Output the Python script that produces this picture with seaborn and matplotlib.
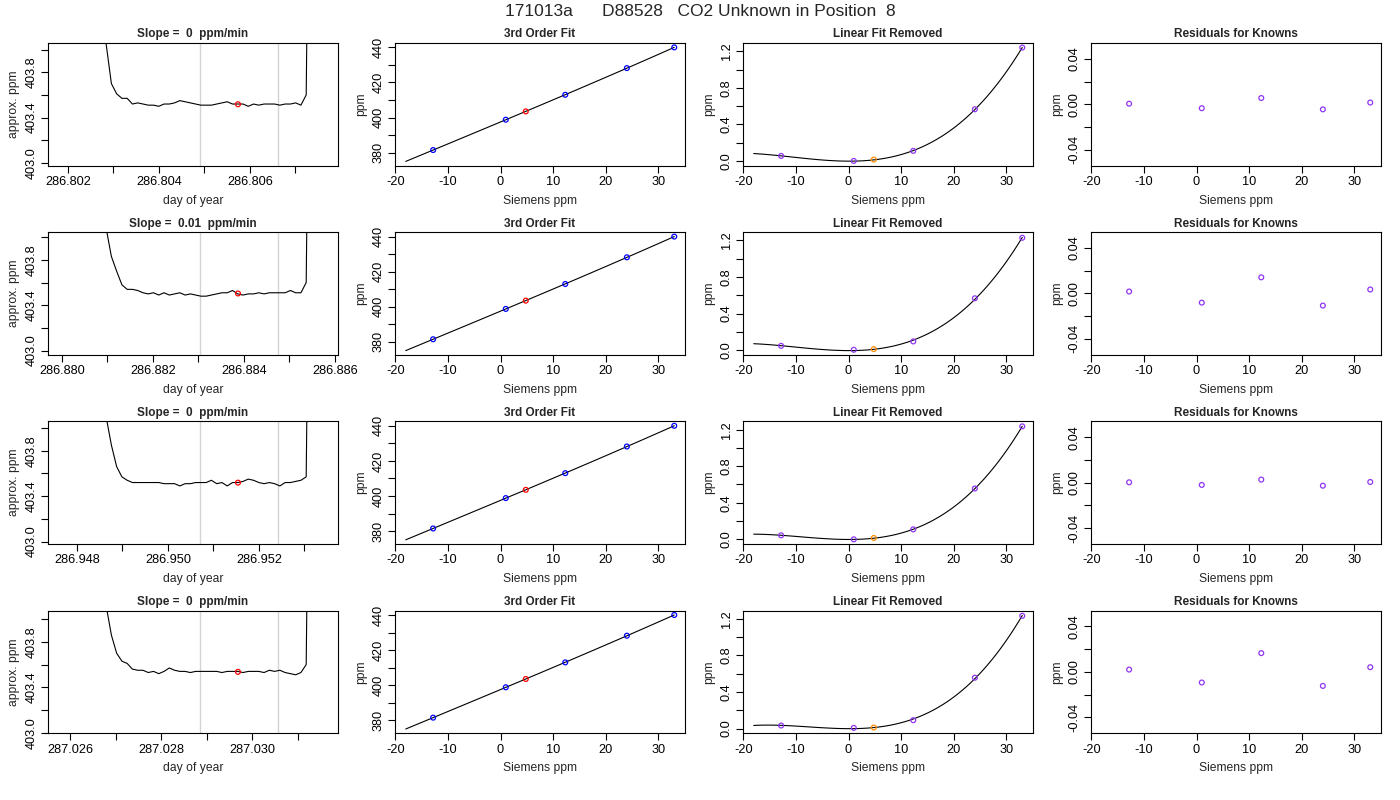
import numpy as np
import matplotlib
matplotlib.use("Agg")
import matplotlib.pyplot as plt
from matplotlib.ticker import MultipleLocator, FuncFormatter
import seaborn as sns

# ---- data ----
title_text = "171013a      D88528   CO2 Unknown in Position  8"
slope_labels = ["0", "0.01", "0", "0"]

# analyser trace, one sample every 10 s
sample_step_days = 10 / 86400
trace_start = [286.80180, 286.87993, 286.94760, 287.02575]
trace_ppm = [
    [412.0, 410.0, 408.4, 407.2, 406.3, 405.6, 405.0, 404.6, 404.3, 404.05,
     403.70, 403.61, 403.57, 403.57, 403.52, 403.53, 403.52, 403.51, 403.51, 403.50,
     403.52, 403.52, 403.53, 403.55, 403.54, 403.53, 403.52, 403.51, 403.51, 403.51,
     403.52, 403.53, 403.54, 403.52, 403.52, 403.52, 403.50, 403.52, 403.51, 403.52,
     403.52, 403.52, 403.51, 403.52, 403.52, 403.53, 403.51, 403.60, 408.0, 411.0,
     413.0, 414.0],
    [412.0, 410.0, 408.4, 407.2, 406.3, 405.6, 405.0, 404.6, 404.2, 404.08,
     403.83, 403.70, 403.58, 403.54, 403.54, 403.53, 403.51, 403.50, 403.51, 403.49,
     403.51, 403.49, 403.50, 403.51, 403.49, 403.50, 403.49, 403.48, 403.48, 403.49,
     403.50, 403.51, 403.51, 403.53, 403.50, 403.49, 403.50, 403.50, 403.51, 403.50,
     403.51, 403.51, 403.51, 403.51, 403.53, 403.51, 403.51, 403.60, 408.0, 411.0,
     413.0, 414.0],
    [412.0, 410.0, 408.4, 407.2, 406.3, 405.6, 405.0, 404.6, 404.3, 404.10,
     403.85, 403.66, 403.57, 403.54, 403.52, 403.52, 403.52, 403.52, 403.52, 403.52,
     403.51, 403.51, 403.51, 403.49, 403.51, 403.51, 403.52, 403.52, 403.52, 403.54,
     403.51, 403.52, 403.49, 403.52, 403.52, 403.53, 403.55, 403.54, 403.52, 403.51,
     403.52, 403.51, 403.49, 403.52, 403.52, 403.53, 403.54, 403.57, 408.0, 411.0,
     413.0, 414.0],
    [412.0, 410.0, 408.4, 407.2, 406.3, 405.6, 405.0, 404.6, 404.3, 404.12,
     403.86, 403.70, 403.63, 403.61, 403.56, 403.55, 403.55, 403.53, 403.54, 403.52,
     403.54, 403.57, 403.55, 403.54, 403.54, 403.53, 403.54, 403.54, 403.54, 403.54,
     403.54, 403.53, 403.54, 403.54, 403.54, 403.53, 403.54, 403.54, 403.54, 403.53,
     403.55, 403.54, 403.55, 403.53, 403.52, 403.51, 403.53, 403.60, 408.0, 411.0,
     413.0, 414.0],
]
window_marks = [
    [286.80490, 286.80661],
    [286.88303, 286.88474],
    [286.95070, 286.95241],
    [287.02885, 287.03056],
]
unknown_time = [286.80574, 286.88387, 286.95154, 287.02969]
unknown_ppm = [403.518, 403.504, 403.519, 403.536]

# calibration standards
siemens_known = [-12.8, 1.0, 12.3, 24.0, 33.0]
assigned_known = [381.5, 398.8, 413.0, 428.2, 440.0]
siemens_unknown = 4.8
lin_removed_known = [
    [0.055, 0.000, 0.110, 0.565, 1.240],
    [0.047, 0.004, 0.095, 0.567, 1.229],
    [0.044, 0.000, 0.109, 0.556, 1.236],
    [0.033, 0.007, 0.091, 0.556, 1.233],
]
lin_removed_unknown = [0.015, 0.011, 0.015, 0.011]
residual_known = [
    [0.0005, -0.0035, 0.0055, -0.0045, 0.0015],
    [0.0017, -0.0081, 0.0142, -0.0107, 0.0035],
    [0.0003, -0.0020, 0.0027, -0.0027, 0.0006],
    [0.0020, -0.0094, 0.0165, -0.0124, 0.0041],
]

# ---- style ----
sns.set_theme(style="ticks")
plt.rcParams["font.family"] = ["Liberation Sans", "DejaVu Sans"]
plt.rcParams["axes.unicode_minus"] = False
plt.rcParams["axes.linewidth"] = 0.8
plt.rcParams["axes.edgecolor"] = "black"

BLUE = "#0000ff"
RED = "#ff0000"
PURPLE = "#9035f5"
ORANGE = "#ff8c00"
FIT_X = (-18, 33)
FIT_XLIM = (-20.04, 35.04)


def label_multiples(base, fmt, origin=0.0):
    def f(v, pos):
        q = (v - origin) / base
        if abs(q - round(q)) > 1e-3:
            return ""
        if abs(v) < 1e-12:
            v = 0.0
        return fmt.format(v)
    return FuncFormatter(f)


def style_axis(ax, title, xlabel, ylabel):
    for sp in ax.spines.values():
        sp.set_visible(True)
        sp.set_color("black")
        sp.set_linewidth(0.8)
    ax.tick_params(direction="out", length=5, width=0.8, labelsize=9.2,
                   colors="black", pad=2.5)
    ax.tick_params(axis="y", labelrotation=90)
    ax.set_title(title, fontsize=8.5, fontweight="bold", pad=4)
    ax.set_xlabel(xlabel, fontsize=8.75, labelpad=5)
    ax.set_ylabel(ylabel, fontsize=8.75, labelpad=4)
    plt.setp(ax.get_yticklabels(), va="center")


def hollow(ax, x, y, color):
    sns.scatterplot(x=x, y=y, ax=ax, marker="o", s=12, facecolor="none",
                    edgecolor=color, linewidth=0.9, zorder=3)


fig = plt.figure(figsize=(14, 8), dpi=100)
col_left = [48, 395, 743, 1091]
row_top0, row_step, ax_w, ax_h = 43, 189.2, 290, 122.5

for r in range(4):
    top = row_top0 + r * row_step
    axes = [fig.add_axes([col_left[c] / 1400, 1 - (top + ax_h) / 800,
                          ax_w / 1400, ax_h / 800]) for c in range(4)]

    # 1. analyser trace
    ax = axes[0]
    vals = np.array(trace_ppm[r])
    times = trace_start[r] + np.arange(len(vals)) * sample_step_days
    for t in window_marks[r]:
        ax.axvline(t, color="#d3d3d3", lw=1.0, zorder=1)
    sns.lineplot(x=times, y=vals, ax=ax, color="black", lw=0.8, zorder=2)
    hollow(ax, [unknown_time[r]], [unknown_ppm[r]], RED)
    span = times[-1] - times[0]
    ax.set_xlim(times[0] - 0.04 * span, times[-1] + 0.04 * span)
    ax.set_ylim(unknown_ppm[r] - 0.54, unknown_ppm[r] + 0.54)
    ax.xaxis.set_major_locator(MultipleLocator(0.001))
    ax.xaxis.set_major_formatter(label_multiples(0.002, "{:.3f}"))
    ax.yaxis.set_major_locator(MultipleLocator(0.2))
    ax.yaxis.set_major_formatter(label_multiples(0.4, "{:.1f}", origin=403.0))
    style_axis(ax, f"Slope =  {slope_labels[r]}  ppm/min", "day of year", "approx. ppm")

    # 2. 3rd order fit
    ax = axes[1]
    ax.set_xlim(*FIT_X)
    sns.regplot(x=np.array(siemens_known), y=np.array(assigned_known), ax=ax,
                order=3, ci=None, scatter=False, truncate=False,
                line_kws=dict(color="black", lw=0.8))
    hollow(ax, siemens_known, assigned_known, BLUE)
    hollow(ax, [siemens_unknown], [unknown_ppm[r]], RED)
    ax.set_xlim(*FIT_XLIM)
    ax.set_ylim(372.7, 442.5)
    ax.xaxis.set_major_locator(MultipleLocator(10))
    ax.xaxis.set_major_formatter(label_multiples(10, "{:.0f}"))
    ax.yaxis.set_major_locator(MultipleLocator(10))
    ax.yaxis.set_major_formatter(label_multiples(20, "{:.0f}"))
    style_axis(ax, "3rd Order Fit", "Siemens ppm", "ppm")

    # 3. linear fit removed
    ax = axes[2]
    ax.set_xlim(*FIT_X)
    sns.regplot(x=np.array(siemens_known), y=np.array(lin_removed_known[r]), ax=ax,
                order=3, ci=None, scatter=False, truncate=False,
                line_kws=dict(color="black", lw=0.8))
    hollow(ax, siemens_known, lin_removed_known[r], PURPLE)
    hollow(ax, [siemens_unknown], [lin_removed_unknown[r]], ORANGE)
    ax.set_xlim(*FIT_XLIM)
    ax.set_ylim(-0.05, 1.29)
    ax.xaxis.set_major_locator(MultipleLocator(10))
    ax.xaxis.set_major_formatter(label_multiples(10, "{:.0f}"))
    ax.yaxis.set_major_locator(MultipleLocator(0.2))
    ax.yaxis.set_major_formatter(label_multiples(0.4, "{:.1f}"))
    style_axis(ax, "Linear Fit Removed", "Siemens ppm", "ppm")

    # 4. residuals
    ax = axes[3]
    hollow(ax, siemens_known, residual_known[r], PURPLE)
    ax.set_xlim(*FIT_XLIM)
    ax.set_ylim(-0.054, 0.054)
    ax.xaxis.set_major_locator(MultipleLocator(10))
    ax.xaxis.set_major_formatter(label_multiples(10, "{:.0f}"))
    ax.yaxis.set_major_locator(MultipleLocator(0.02))
    ax.yaxis.set_major_formatter(label_multiples(0.04, "{:.2f}"))
    style_axis(ax, "Residuals for Knowns", "Siemens ppm", "ppm")

fig.text(0.5, 1 - 12 / 800, title_text, ha="center", va="center", fontsize=12.5)

fig.savefig("out.png", dpi=100)
